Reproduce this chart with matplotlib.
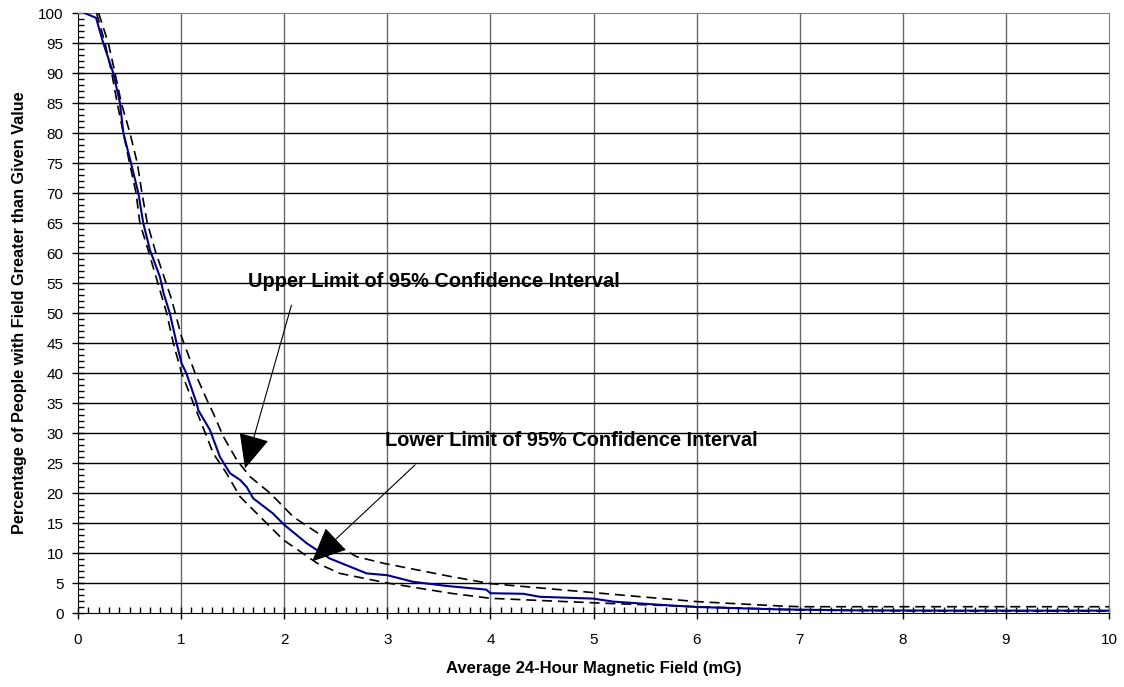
import matplotlib
matplotlib.use("Agg")
import matplotlib.pyplot as plt
from matplotlib.ticker import MultipleLocator

plt.rcParams['font.family'] = ['Liberation Sans', 'DejaVu Sans']

# Central estimate (blue)
mid_x = [0.065, 0.175, 0.245, 0.342, 0.407, 0.44, 0.514, 0.585, 0.633, 0.698, 0.795,
         0.83, 0.89, 0.956, 1.005, 1.05, 1.15, 1.167, 1.28, 1.377, 1.474, 1.571, 1.636,
         1.70, 1.89, 2.0, 2.22, 2.44, 2.80, 3.0, 3.25, 3.58, 3.96, 4.0, 4.32, 4.48, 5.0,
         5.19, 5.68, 6.0, 6.81, 7.5, 8.5, 10.0]
mid_y = [100, 99.2, 95, 90, 85, 80, 75, 70, 65, 60.5, 56,
         53.3, 50, 45, 41.6, 40, 35, 33.8, 30.5, 26, 23.3, 22.2, 21,
         19.1, 16.6, 14.7, 11.6, 9.1, 6.6, 6.3, 5.2, 4.5, 3.9, 3.3, 3.2, 2.7, 2.4,
         1.9, 1.33, 1.0, 0.6, 0.45, 0.4, 0.4]

# Upper limit of 95% CI
up_x = [0.2, 0.294, 0.359, 0.42, 0.504, 0.575, 0.62, 0.672, 0.747, 0.909, 1.005,
        1.135, 1.264, 1.312, 1.41, 1.54, 1.67, 1.862, 2.09, 2.38, 2.70, 2.96, 3.61,
        4.0, 5.0, 6.0, 6.81, 7.0, 10.0]
up_y = [100, 95, 90, 85, 80, 75, 70, 65, 60.5, 52.2, 46,
        40, 35, 33.3, 29.4, 25.5, 22.7, 20, 16, 12.7, 9.4, 8.3, 6.1,
        4.9, 3.4, 1.9, 1.17, 1.05, 1.05]

# Lower limit of 95% CI
lo_x = [0.18, 0.262, 0.327, 0.38, 0.44, 0.50, 0.563, 0.60, 0.68, 0.86, 0.924,
        1.005, 1.118, 1.183, 1.248, 1.312, 1.44, 1.571, 1.67, 1.99, 2.32, 2.54, 3.0,
        3.61, 4.0, 5.0, 6.0, 7.0, 8.0, 10.0]
lo_y = [100, 95, 90, 85, 80, 75, 70, 65, 60.5, 50, 45,
        40, 35, 32.2, 29.4, 26.6, 23.3, 19.4, 17.7, 12.2, 8.3, 6.6, 5.0,
        3.3, 2.45, 1.7, 1.05, 0.5, 0.35, 0.3]

x_ticks = list(range(0, 11))
y_ticks = list(range(0, 101, 5))

fig = plt.figure(figsize=(11.24, 6.87), dpi=100)
ax = fig.add_axes([0.0694, 0.1077, 0.9173, 0.8733])

ax.set_xlim(0, 10)
ax.set_ylim(0, 100)
ax.set_xticks(x_ticks)
ax.set_yticks(y_ticks)
ax.xaxis.set_minor_locator(MultipleLocator(0.1))
ax.yaxis.set_minor_locator(MultipleLocator(1))

for x in x_ticks[1:-1]:
    ax.axvline(x, color='#6a6a6a', lw=1.0, zorder=1)
for y in y_ticks[1:-1]:
    ax.axhline(y, color='black', lw=1.0, zorder=1)

dash = (0, (6, 3.5))
ax.plot(lo_x, lo_y, color='black', lw=1.2, ls=dash, zorder=3)
ax.plot(up_x, up_y, color='black', lw=1.2, ls=dash, zorder=3)
ax.plot(mid_x, mid_y, color='#00008B', lw=1.5, zorder=4)

for s in ['top', 'right']:
    ax.spines[s].set_color('#808080')
for s in ['left', 'bottom']:
    ax.spines[s].set_color('black')

ax.tick_params(axis='both', which='major', direction='inout', length=9, width=1,
               labelsize=11)
ax.tick_params(axis='x', which='major', pad=10)
ax.tick_params(axis='y', which='major', pad=6)
ax.tick_params(axis='both', which='minor', direction='in', length=4, width=1)

ax.set_xlabel('Average 24-Hour Magnetic Field (mG)', fontsize=12, fontweight='bold', labelpad=10)
ax.set_ylabel('Percentage of People with Field Greater than Given Value', fontsize=11.7,
              fontweight='bold', labelpad=8)

arrow = dict(arrowstyle='-|>,head_length=1.0,head_width=0.45', color='black', lw=0.8,
             mutation_scale=22, shrinkA=0, shrinkB=0)
ax.text(1.65, 55.3, 'Upper Limit of 95% Confidence Interval', fontsize=14.4,
        fontweight='bold', va='center', ha='left', zorder=5)
ax.annotate('', xy=(1.62, 24.1), xytext=(2.07, 51.3), arrowprops=arrow, zorder=5)
ax.text(2.98, 28.7, 'Lower Limit of 95% Confidence Interval', fontsize=14.4,
        fontweight='bold', va='center', ha='left', zorder=5)
ax.annotate('', xy=(2.27, 8.6), xytext=(3.27, 24.7), arrowprops=arrow, zorder=5)

fig.savefig('out.png', dpi=100)
